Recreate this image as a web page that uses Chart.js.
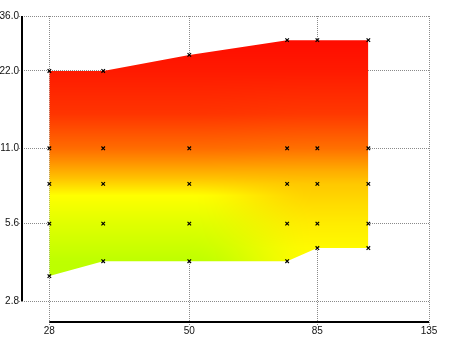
<!DOCTYPE html>
<html>
<head>
<meta charset="utf-8">
<script src="https://cdn.jsdelivr.net/npm/chart.js@4.4.1/dist/chart.umd.min.js"></script>
<style>
  html, body { margin: 0; padding: 0; background: #fff; }
</style>
</head>
<body>
<canvas id="chart" width="450" height="337"></canvas>
<script>
// data
const xVals = [28, 35, 50, 75, 85, 105];
const topVals = [22, 22, 25.4, 29, 29, 29];
const bottomVals = [3.5, 4.0, 4.0, 4.0, 4.5, 4.5];
const midLevels = [11, 8, 5.6];
const xTicks = [28, 50, 85, 135];
const yTicks = [2.8, 5.6, 11, 22, 36];

// colour of the surface, left side and right side (value on y -> rgb)
const leftStops = [
  [36, [255, 8, 0]], [29, [255, 12, 0]], [22, [255, 26, 0]], [15, [255, 52, 0]],
  [11, [255, 108, 0]], [9.9, [255, 140, 0]], [8.4, [255, 195, 0]], [7.2, [255, 255, 0]],
  [5.6, [224, 255, 0]], [4, [190, 255, 0]], [2.3, [180, 255, 0]]
];
const rightStops = [
  [36, [255, 8, 0]], [29, [255, 12, 0]], [22, [255, 26, 0]], [15, [255, 56, 0]],
  [11, [255, 112, 0]], [9, [255, 172, 0]], [8, [255, 200, 0]], [6.5, [255, 222, 0]],
  [5.6, [255, 236, 0]], [4.5, [255, 250, 0]], [2.3, [255, 255, 0]]
];

function lerpStops(stops, v) {
  if (v >= stops[0][0]) return stops[0][1];
  const lv = Math.log(v);
  for (let i = 1; i < stops.length; i++) {
    if (v >= stops[i][0]) {
      const a = Math.log(stops[i - 1][0]), b = Math.log(stops[i][0]);
      const t = (lv - a) / (b - a);
      return stops[i - 1][1].map((c, k) => c + (stops[i][1][k] - c) * t);
    }
  }
  return stops[stops.length - 1][1];
}

let fillCache = null;
function surfaceFill(ctx) {
  const chart = ctx.chart;
  const area = chart.chartArea;
  if (!area) return 'rgba(0,0,0,0)';
  const key = [area.left, area.top, area.right, area.bottom].join(',');
  if (fillCache && fillCache.key === key) return fillCache.pattern;
  const sx = chart.scales.x, sy = chart.scales.y;
  const w = chart.width, h = chart.height;
  const off = document.createElement('canvas');
  off.width = w; off.height = h;
  const octx = off.getContext('2d');
  const img = octx.createImageData(w, h);
  const l50 = Math.log(50), l85 = Math.log(85);
  for (let px = Math.floor(area.left); px < Math.ceil(area.right); px++) {
    const xv = sx.getValueForPixel(px + 0.5);
    let t = (Math.log(xv) - l50) / (l85 - l50);
    t = Math.max(0, Math.min(1, t));
    t = t * t * (3 - 2 * t);
    for (let py = Math.floor(area.top); py < Math.ceil(area.bottom); py++) {
      const yv = sy.getValueForPixel(py + 0.5);
      const a = lerpStops(leftStops, yv), b = lerpStops(rightStops, yv);
      const i = (py * w + px) * 4;
      img.data[i] = a[0] + (b[0] - a[0]) * t;
      img.data[i + 1] = a[1] + (b[1] - a[1]) * t;
      img.data[i + 2] = a[2] + (b[2] - a[2]) * t;
      img.data[i + 3] = 255;
    }
  }
  octx.putImageData(img, 0, 0);
  const pattern = chart.ctx.createPattern(off, 'no-repeat');
  fillCache = { key, pattern };
  return pattern;
}

// axis lines only from first to last tick
const rangeFrame = {
  id: 'rangeFrame',
  afterDraw(chart) {
    const { ctx, chartArea, scales: { x, y } } = chart;
    ctx.save();
    ctx.strokeStyle = '#000';
    ctx.lineWidth = 2;
    ctx.beginPath();
    ctx.moveTo(chartArea.left, y.getPixelForValue(yTicks[yTicks.length - 1]));
    ctx.lineTo(chartArea.left, y.getPixelForValue(yTicks[0]));
    ctx.moveTo(x.getPixelForValue(xTicks[0]), chartArea.bottom);
    ctx.lineTo(x.getPixelForValue(xTicks[xTicks.length - 1]), chartArea.bottom);
    ctx.stroke();
    ctx.restore();
  }
};

const markerPoints = [];
xVals.forEach((x, i) => {
  [topVals[i]].concat(midLevels, [bottomVals[i]]).forEach(y => markerPoints.push({ x, y }));
});

Chart.defaults.font.family = '"Liberation Sans", Arial, sans-serif';
Chart.defaults.font.size = 10;
Chart.defaults.color = '#111';

const gridOpts = {
  color: '#8a8a8a',
  lineWidth: 1,
  tickLength: 3,
  tickColor: '#8a8a8a',
  tickBorderDash: [1, 1]
};

new Chart(document.getElementById('chart'), {
  type: 'line',
  data: {
    datasets: [
      {
        data: markerPoints,
        order: 0,
        showLine: false,
        pointStyle: 'crossRot',
        pointRadius: 2.5,
        borderColor: '#000',
        borderWidth: 1.2,
        fill: false
      },
      {
        data: xVals.map((x, i) => ({ x, y: topVals[i] })),
        order: 1,
        borderWidth: 0,
        pointRadius: 0,
        tension: 0,
        fill: '+1',
        backgroundColor: surfaceFill
      },
      {
        data: xVals.map((x, i) => ({ x, y: bottomVals[i] })),
        order: 2,
        borderWidth: 0,
        pointRadius: 0,
        tension: 0,
        fill: false
      }
    ]
  },
  options: {
    responsive: false,
    animation: false,
    layout: { padding: { top: 16, right: 21, left: 0, bottom: 0 } },
    plugins: { legend: { display: false }, tooltip: { enabled: false } },
    scales: {
      x: {
        type: 'logarithmic',
        min: 25,
        max: 135,
        z: 1,
        afterBuildTicks: s => { s.ticks = xTicks.map(v => ({ value: v })); },
        afterFit: s => { s.height = 15; },
        ticks: { autoSkip: false, maxRotation: 0, padding: 0, callback: v => String(v) },
        grid: gridOpts,
        border: { display: false, dash: [1, 1] }
      },
      y: {
        type: 'logarithmic',
        min: 2.32,
        max: 36,
        z: 1,
        afterBuildTicks: s => { s.ticks = yTicks.map(v => ({ value: v })); },
        afterFit: s => { s.width = 22; },
        ticks: { autoSkip: false, padding: 0, callback: v => Number(v).toFixed(1) },
        grid: gridOpts,
        border: { display: false, dash: [1, 1] }
      }
    }
  },
  plugins: [rangeFrame]
});
</script>
</body>
</html>
